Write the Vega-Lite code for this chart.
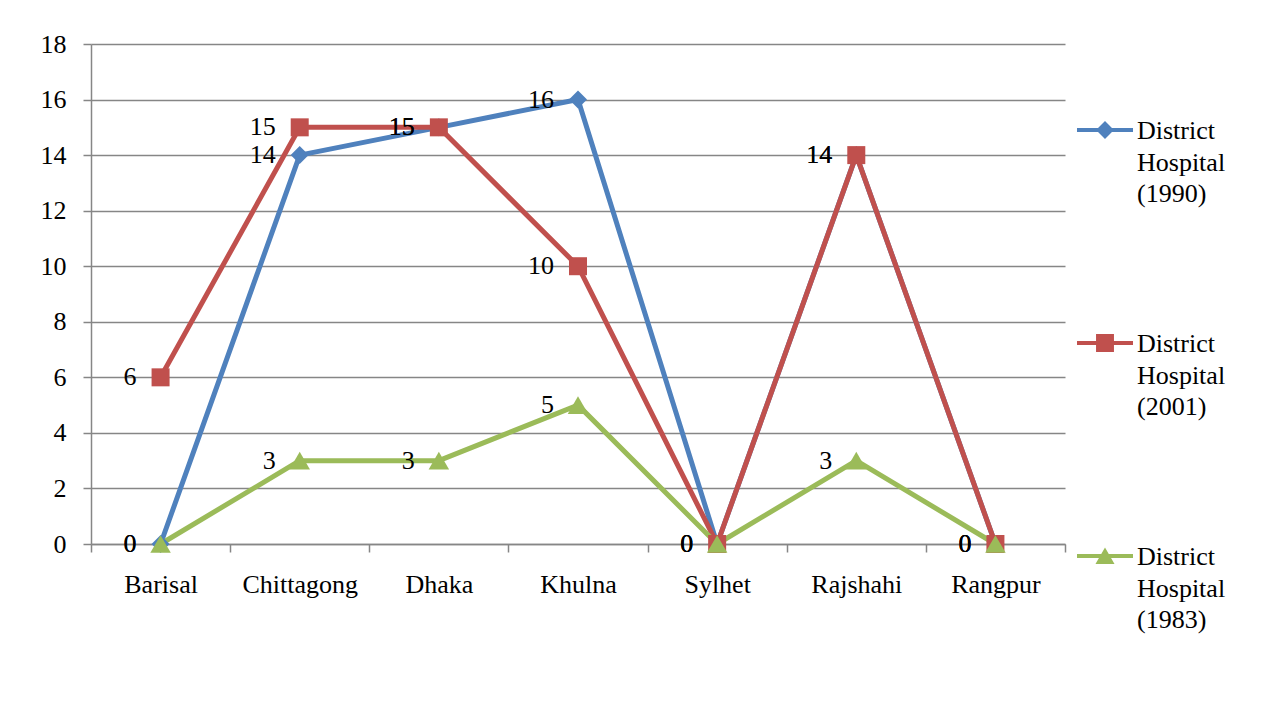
{
  "$schema": "https://vega.github.io/schema/vega-lite/v6.json",
  "width": 974,
  "height": 500,
  "autosize": "none",
  "padding": {"left": 91, "top": 44, "right": 208, "bottom": 171},
  "background": "white",
  "config": {
    "view": {"stroke": null},
    "font": "Liberation Serif",
    "axis": {"labelFont": "Liberation Serif", "labelFontSize": 26, "labelColor": "black", "domainColor": "#868686", "tickColor": "#868686", "gridColor": "#868686", "domainWidth": 1.5, "tickWidth": 1.5, "gridWidth": 1.5, "title": null}
  },
  "data": {
    "values": [
      {"district": "Barisal", "series": "District Hospital (1990)", "value": 0},
      {"district": "Chittagong", "series": "District Hospital (1990)", "value": 14},
      {"district": "Dhaka", "series": "District Hospital (1990)", "value": 15},
      {"district": "Khulna", "series": "District Hospital (1990)", "value": 16},
      {"district": "Sylhet", "series": "District Hospital (1990)", "value": 0},
      {"district": "Rajshahi", "series": "District Hospital (1990)", "value": 14},
      {"district": "Rangpur", "series": "District Hospital (1990)", "value": 0},
      {"district": "Barisal", "series": "District Hospital (2001)", "value": 6},
      {"district": "Chittagong", "series": "District Hospital (2001)", "value": 15},
      {"district": "Dhaka", "series": "District Hospital (2001)", "value": 15},
      {"district": "Khulna", "series": "District Hospital (2001)", "value": 10},
      {"district": "Sylhet", "series": "District Hospital (2001)", "value": 0},
      {"district": "Rajshahi", "series": "District Hospital (2001)", "value": 14},
      {"district": "Rangpur", "series": "District Hospital (2001)", "value": 0},
      {"district": "Barisal", "series": "District Hospital (1983)", "value": 0},
      {"district": "Chittagong", "series": "District Hospital (1983)", "value": 3},
      {"district": "Dhaka", "series": "District Hospital (1983)", "value": 3},
      {"district": "Khulna", "series": "District Hospital (1983)", "value": 5},
      {"district": "Sylhet", "series": "District Hospital (1983)", "value": 0},
      {"district": "Rajshahi", "series": "District Hospital (1983)", "value": 3},
      {"district": "Rangpur", "series": "District Hospital (1983)", "value": 0}
    ]
  },
  "encoding": {
    "x": {
      "field": "district", "type": "nominal", "sort": null,
      "scale": {"type": "band", "domain": ["Barisal", "Chittagong", "Dhaka", "Khulna", "Sylhet", "Rajshahi", "Rangpur"], "paddingInner": 0, "paddingOuter": 0},
      "axis": {"tickBand": "extent", "tickSize": 8, "labelPadding": 19, "labelAngle": 0, "grid": false}
    },
    "y": {
      "field": "value", "type": "quantitative",
      "scale": {"domain": [0, 18], "nice": false},
      "axis": {"values": [0, 2, 4, 6, 8, 10, 12, 14, 16, 18], "tickSize": 8, "labelPadding": 17, "grid": true}
    },
    "color": {
      "field": "series", "type": "nominal",
      "scale": {"domain": ["District Hospital (1990)", "District Hospital (2001)", "District Hospital (1983)"], "range": ["#4F81BD", "#C0504D", "#9BBB59"]},
      "legend": {
        "title": null,
        "orient": "none",
        "legendX": 986,
        "legendY": 58,
        "padding": 0,
        "symbolSize": 3136,
        "symbolStrokeWidth": 0,
        "symbolOpacity": 1,
        "labelFont": "Liberation Serif",
        "labelFontSize": 26,
        "labelColor": "black",
        "labelOffset": 4,
        "labelLimit": 0,
        "labelBaseline": "alphabetic",
        "labelExpr": "split(datum.label, ' ')",
        "rowPadding": 108,
        "encode": {
          "symbols": {"update": {
            "shape": {"signal": "datum.value === 'District Hospital (1990)' ? 'M-1,-0.075H1V0.075H-1Z M0,-0.32L0.32,0L0,0.32L-0.32,0Z' : datum.value === 'District Hospital (2001)' ? 'M-1,-0.075H1V0.075H-1Z M-0.32,-0.32H0.32V0.32H-0.32Z' : 'M-1,-0.075H1V0.075H-1Z M0,-0.3L0.34,0.29H-0.34Z'"},
            "size": {"value": 3136},
            "fill": {"signal": "scale('color', datum.value)"},
            "opacity": {"value": 1}
          }},
          "labels": {"update": {"lineHeight": {"value": 31.5}, "dy": {"value": 9}}}
        }
      }
    }
  },
  "layer": [
    {"mark": {"type": "line", "strokeWidth": 5, "strokeJoin": "round", "strokeCap": "round"}},
    {
      "transform": [{"filter": "datum.series === 'District Hospital (1990)'"}],
      "mark": {"type": "point", "shape": "diamond", "size": 324, "filled": true, "opacity": 1, "strokeWidth": 0}
    },
    {
      "transform": [{"filter": "datum.series === 'District Hospital (2001)'"}],
      "mark": {"type": "point", "shape": "square", "size": 324, "filled": true, "opacity": 1, "strokeWidth": 0}
    },
    {
      "transform": [{"filter": "datum.series === 'District Hospital (1983)'"}],
      "mark": {"type": "point", "shape": "triangle-up", "size": 420, "filled": true, "opacity": 1, "strokeWidth": 0}
    },
    {
      "mark": {"type": "text", "align": "right", "baseline": "middle", "dx": -24, "fontSize": 26, "font": "Liberation Serif"},
      "encoding": {"text": {"field": "value", "type": "quantitative"}, "color": {"value": "black"}}
    }
  ]
}
